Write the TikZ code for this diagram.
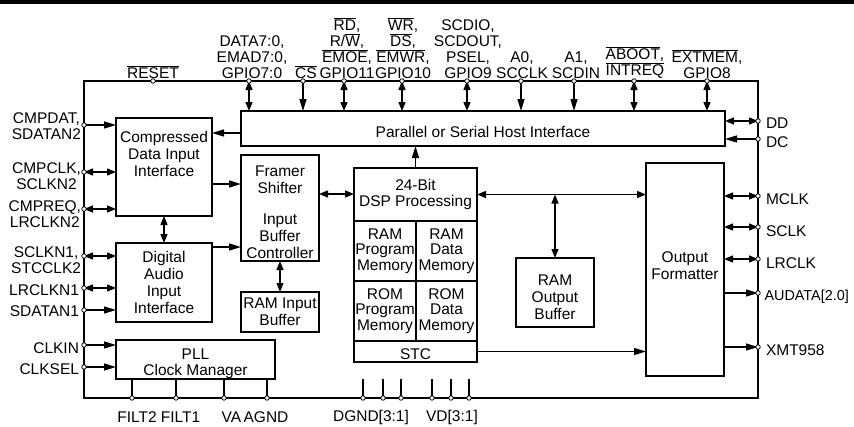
\documentclass[tikz,border=0pt]{standalone}
\usepackage{fontspec}
\setmainfont{Liberation Sans}
\usetikzlibrary{arrows.meta}
\newcommand{\ovl}[1]{$\overline{\mbox{#1}}$}
\begin{document}
\begin{tikzpicture}[x=1pt,y=-1pt,
  every node/.style={inner sep=0pt, outer sep=0pt, align=center, font=\fontsize{15.5pt}{17pt}\selectfont},
  box/.style={draw, line width=1.3pt},
  conn/.style={line width=1.3pt},
  sa/.style={conn,-{Triangle[length=12pt,width=7pt]}},
  da/.style={conn,{Triangle[length=9pt,width=7pt]}-{Triangle[length=9pt,width=7pt]}},
  pindot/.style={circle, draw, fill=white, line width=0.8pt, minimum size=4.5pt},
  lbl/.style={font=\fontsize{15.5pt}{16pt}\selectfont},
  cell/.style={box, font=\fontsize{15.5pt}{15.5pt}\selectfont}
]
\useasboundingbox (0,0) rectangle (854,426);
\fill (0,0) rectangle (854,4);

% chip outline
\node[draw, line width=2.6pt, minimum width=674pt, minimum height=317pt] (chip) at (421,239.5) {};

% blocks
\node[box, minimum width=484pt, minimum height=35pt] (host) at (483,128.5) {};
\node (hostt) at (483,131.5) {Parallel or Serial Host Interface};
\node[box, minimum width=96pt, minimum height=98pt] (cdi) at (164,167) {};
\node (cdit) at (164,154) {Compressed\\Data Input\\Interface};
\node[box, minimum width=96pt, minimum height=79pt] (dai) at (164,282.5) {Digital\\Audio\\Input\\Interface};
\node[box, minimum width=78pt, minimum height=106pt] (framer) at (280,208) {};
\node (frt1) at (280,180) {Framer\\Shifter};
\node (frt2) at (280,236) {Input\\Buffer\\Controller};
\node[box, minimum width=78pt, minimum height=40pt] (rib) at (280,312) {RAM Input\\Buffer};
\node[box, minimum width=159pt, minimum height=39pt] (pll) at (195.5,359.5) {};
\node[lbl] (pllt) at (195.5,364) {PLL\\Clock Manager};
\node[cell, minimum width=123pt, minimum height=53pt] (dsphead) at (415.5,194.5) {24-Bit\\DSP Processing};
\node[cell, minimum width=62pt, minimum height=60pt] (ramp) at (385,251) {RAM\\Program\\Memory};
\node[cell, minimum width=61pt, minimum height=60pt] (ramd) at (446.5,251) {RAM\\Data\\Memory};
\node[cell, minimum width=62pt, minimum height=60pt] (romp) at (385,311) {ROM\\Program\\Memory};
\node[cell, minimum width=61pt, minimum height=60pt] (romd) at (446.5,311) {ROM\\Data\\Memory};
\node[cell, minimum width=123pt, minimum height=21pt] (stc) at (415.5,351.5) {};
\node (stct) at (415.5,354) {STC};
\node[box, minimum width=78pt, minimum height=69pt] (rob) at (555,292.5) {};
\node (robt) at (555,297) {RAM\\Output\\Buffer};
\node[box, minimum width=78pt, minimum height=213pt] (of) at (685,269.5) {};
\node (oft) at (685,265.5) {Output\\Formatter};

% pin coordinates
\coordinate (pCMPDAT) at (84,125);
\coordinate (pCMPCLK) at (84,172);
\coordinate (pCMPREQ) at (84,209);
\coordinate (pSCLKN1) at (84,256);
\coordinate (pLRCLKN1) at (84,288);
\coordinate (pSDATAN1) at (84,310);
\coordinate (pCLKIN) at (84,345);
\coordinate (pCLKSEL) at (84,367);
\coordinate (pDD) at (758,121);
\coordinate (pDC) at (758,139);
\coordinate (pMCLK) at (758,196);
\coordinate (pSCLK) at (758,227);
\coordinate (pLRCLK) at (758,259);
\coordinate (pAUDATA) at (758,293);
\coordinate (pXMT) at (758,347);
\coordinate (pRESET) at (153,81);
\coordinate (pDATA) at (249,81);
\coordinate (pCS) at (303,81);
\coordinate (pRD) at (344,81);
\coordinate (pWR) at (402,81);
\coordinate (pSCDIO) at (467,81);
\coordinate (pA0) at (521,81);
\coordinate (pA1) at (574,81);
\coordinate (pABOOT) at (634,81);
\coordinate (pEXTMEM) at (707,81);
\coordinate (pFILT2) at (132,398);
\coordinate (pFILT1) at (176,398);
\coordinate (pVA) at (224,398);
\coordinate (pAGND) at (267,398);
\coordinate (pDG1) at (363,398);
\coordinate (pDG2) at (383,398);
\coordinate (pDG3) at (401,398);
\coordinate (pVD1) at (432,398);
\coordinate (pVD2) at (451,398);
\coordinate (pVD3) at (469,398);
\coordinate (sDG1) at (363,379);
\coordinate (sDG2) at (383,379);
\coordinate (sDG3) at (401,379);
\coordinate (sVD1) at (432,379);
\coordinate (sVD2) at (451,379);
\coordinate (sVD3) at (469,379);

% left connectors
\draw[sa] (pCMPDAT) -- (pCMPDAT -| cdi.west);
\draw[da] (pCMPCLK) -- (pCMPCLK -| cdi.west);
\draw[da] (pCMPREQ) -- (pCMPREQ -| cdi.west);
\draw[da] (pSCLKN1) -- (pSCLKN1 -| dai.west);
\draw[da] (pLRCLKN1) -- (pLRCLKN1 -| dai.west);
\draw[sa] (pSDATAN1) -- (pSDATAN1 -| dai.west);
\draw[sa] (pCLKIN) -- (pCLKIN -| pll.west);
\draw[sa] (pCLKSEL) -- (pCLKSEL -| pll.west);

% top connectors
\draw[da] (pDATA) -- (pDATA |- host.north);
\draw[sa] (pCS) -- (pCS |- host.north);
\draw[da] (pRD) -- (pRD |- host.north);
\draw[da] (pWR) -- (pWR |- host.north);
\draw[da] (pSCDIO) -- (pSCDIO |- host.north);
\draw[sa] (pA0) -- (pA0 |- host.north);
\draw[sa] (pA1) -- (pA1 |- host.north);
\draw[da] (pABOOT) -- (pABOOT |- host.north);
\draw[da] (pEXTMEM) -- (pEXTMEM |- host.north);

% right connectors
\draw[da] (pDD -| host.east) -- (pDD);
\draw[sa] (pDC) -- (pDC -| host.east);
\draw[da] (pMCLK -| of.east) -- (pMCLK);
\draw[da] (pSCLK -| of.east) -- (pSCLK);
\draw[da] (pLRCLK -| of.east) -- (pLRCLK);
\draw[sa] (pAUDATA -| of.east) -- (pAUDATA);
\draw[sa] (pXMT -| of.east) -- (pXMT);

% bottom connectors
\draw[conn] (pFILT2 |- pll.south) -- (pFILT2);
\draw[conn] (pFILT1 |- pll.south) -- (pFILT1);
\draw[conn] (pVA |- pll.south) -- (pVA);
\draw[conn] (pAGND |- pll.south) -- (pAGND);
\draw[conn] (sDG1) -- (pDG1);
\draw[conn] (sDG2) -- (pDG2);
\draw[conn] (sDG3) -- (pDG3);
\draw[conn] (sVD1) -- (pVD1);
\draw[conn] (sVD2) -- (pVD2);
\draw[conn] (sVD3) -- (pVD3);

% internal connectors
\draw[sa] (host.west |- 0,133) -- (cdi.east |- 0,133);
\draw[sa] (cdi.east |- 0,184) -- (framer.west |- 0,184);
\draw[sa] (dai.east |- 0,247) -- (framer.west |- 0,247);
\draw[da] (cdi.south) -- (dai.north);
\draw[da] (framer.south) -- (rib.north);
\draw[da] (framer.east |- 0,194) -- (dsphead.west |- 0,194);
\draw[sa] (dsphead.north) -- (dsphead.north |- host.south);
\draw[da] (dsphead.east) -- (dsphead.east -| of.west);
\draw[da] (rob.north |- dsphead.east) -- (rob.north);
\draw[sa] (stc.east) -- (stc.east -| of.west);

% pin dots
\foreach \p in {CMPDAT,CMPCLK,CMPREQ,SCLKN1,LRCLKN1,SDATAN1,CLKIN,CLKSEL,DD,DC,MCLK,SCLK,LRCLK,AUDATA,XMT,RESET,DATA,CS,RD,WR,SCDIO,A0,A1,ABOOT,EXTMEM,FILT2,FILT1,VA,AGND,DG1,DG2,DG3,VD1,VD2,VD3}
  \node[pindot] (d\p) at (p\p) {};

% left labels
\node[lbl, anchor=east] (lCMPDAT) at (81,126) {CMPDAT,\\SDATAN2};
\node[lbl, anchor=east] (lCMPCLK) at (81,176) {CMPCLK,\\SCLKN2};
\node[lbl, anchor=east] (lCMPREQ) at (81,214) {CMPREQ,\\LRCLKN2};
\node[lbl, anchor=east] (lSCLKN1) at (81,260.5) {SCLKN1,\\STCCLK2};
\node[lbl, anchor=east] (lLRCLKN1) at (79,290) {LRCLKN1};
\node[lbl, anchor=east] (lSDATAN1) at (79,311) {SDATAN1};
\node[lbl, anchor=east] (lCLKIN) at (79,348) {CLKIN};
\node[lbl, anchor=east] (lCLKSEL) at (79,369) {CLKSEL};

% right labels
\node[lbl, anchor=west] (lDD) at (766,123) {DD};
\node[lbl, anchor=west] (lDC) at (766,142) {DC};
\node[lbl, anchor=west] (lMCLK) at (766,199) {MCLK};
\node[lbl, anchor=west] (lSCLK) at (766,231) {SCLK};
\node[lbl, anchor=west] (lLRCLK) at (766,263) {LRCLK};
\node[lbl, anchor=west, font=\fontsize{14.4pt}{16pt}\selectfont] (lAUDATA) at (764.5,297) {AUDATA[2.0]};
\node[lbl, anchor=west] (lXMT) at (766,350) {XMT958};

% top labels
\node[lbl, anchor=south] (lRESET) at (153,78.5) {\ovl{RESET}};
\node[lbl, anchor=south] (lDATA) at (252,78.5) {DATA7:0,\\EMAD7:0,\\GPIO7:0};
\node[lbl, anchor=south] (lCS) at (306,78.5) {\ovl{CS}};
\node[lbl, anchor=south] (lRD) at (347,78.5) {\ovl{RD},\\R/\ovl{W},\\\ovl{EMOE},\\GPIO11};
\node[lbl, anchor=south] (lWR) at (403,78.5) {\ovl{WR},\\\ovl{DS},\\\ovl{EMWR},\\GPIO10};
\node[lbl, anchor=south] (lSCDIO) at (468,78.5) {SCDIO,\\SCDOUT,\\PSEL,\\GPIO9};
\node[lbl, anchor=south] (lA0) at (522,78.5) {A0,\\SCCLK};
\node[lbl, anchor=south] (lA1) at (576,78.5) {A1,\\SCDIN};
\node[lbl, anchor=south] (lABOOT) at (635,78.5) {\ovl{ABOOT},\\\ovl{INTREQ}};
\node[lbl, anchor=south] (lEXTMEM) at (707,78.5) {\ovl{EXTMEM},\\GPIO8};

% bottom labels
\node[lbl] (lFILT2) at (137,417) {FILT2};
\node[lbl] (lFILT1) at (180.5,417) {FILT1};
\node[lbl] (lVA) at (231.5,417) {VA};
\node[lbl] (lAGND) at (266,417) {AGND};
\node[lbl] (lDGND) at (371,417) {DGND[3:1]};
\node[lbl] (lVD) at (452,417) {VD[3:1]};
\end{tikzpicture}
\end{document}
